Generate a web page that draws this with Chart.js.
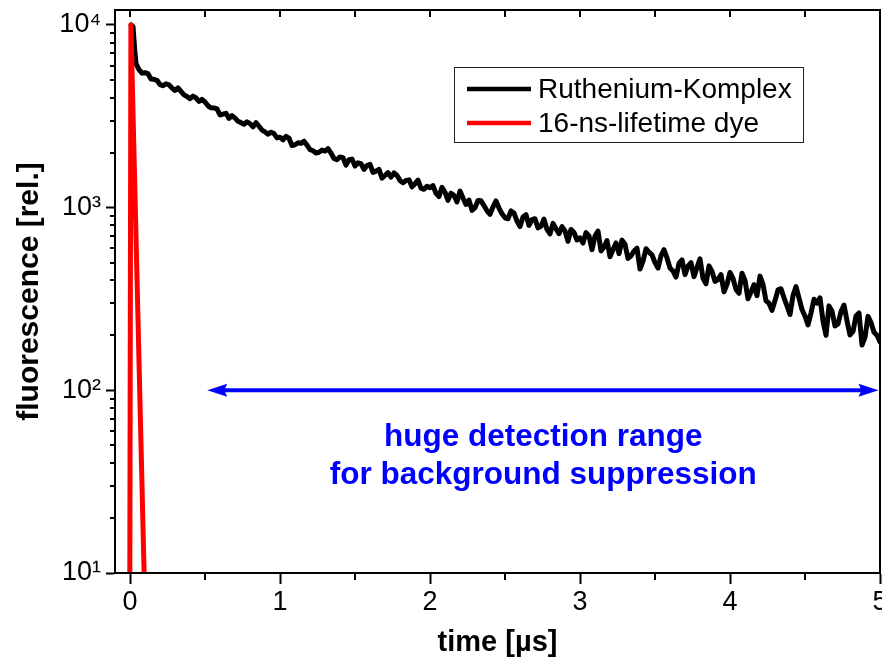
<!DOCTYPE html>
<html><head><meta charset="utf-8">
<script src="https://cdn.jsdelivr.net/npm/chart.js@4.4.1/dist/chart.umd.min.js"></script>
<style>html,body{margin:0;padding:0;background:#fff;}</style>
</head><body>
<canvas id="c" width="882" height="660"></canvas>
<script>
// ---- data ----
const timeUs = [0.008,0.02,0.03,
 0.04,0.06,0.08,0.10,0.12,0.14,0.16,0.18,0.20,0.22,0.24,0.26,0.28,0.30,0.32,0.34,0.36,0.38,0.40,0.42,0.44,0.46,0.48,0.50,
 0.52,0.54,0.56,0.58,0.60,0.62,0.64,0.66,0.68,0.70,0.72,0.74,0.76,0.78,0.80,0.82,0.84,0.86,0.88,0.90,0.92,0.94,0.96,0.98,1.00,
 1.02,1.04,1.06,1.08,1.10,1.12,1.14,1.16,1.18,1.20,1.22,1.24,1.26,1.28,1.30,1.32,1.34,1.36,1.38,1.40,1.42,1.44,1.46,1.48,1.50,
 1.52,1.54,1.56,1.58,1.60,1.62,1.64,1.66,1.68,1.70,1.72,1.74,1.76,1.78,1.80,1.82,1.84,1.86,1.88,1.90,1.92,1.94,1.96,1.98,2.00,
 2.02,2.04,2.06,2.08,2.10,2.12,2.14,2.16,2.18,2.20,2.22,2.24,2.26,2.28,2.30,2.32,2.34,2.36,2.38,2.40,2.42,2.44,2.46,2.48,2.50,
 2.52,2.54,2.56,2.58,2.60,2.62,2.64,2.66,2.68,2.70,2.72,2.74,2.76,2.78,2.80,2.82,2.84,2.86,2.88,2.90,2.92,2.94,2.96,2.98,3.00,
 3.02,3.04,3.06,3.08,3.10,3.12,3.14,3.16,3.18,3.20,3.22,3.24,3.26,3.28,3.30,3.32,3.34,3.36,3.38,3.40,3.42,3.44,3.46,3.48,3.50,
 3.52,3.54,3.56,3.58,3.60,3.62,3.64,3.66,3.68,3.70,3.72,3.74,3.76,3.78,3.80,3.82,3.84,3.86,3.88,3.90,3.92,3.94,3.96,3.98,4.00,
 4.02,4.04,4.06,4.08,4.10,4.12,4.14,4.16,4.18,4.20,4.22,4.24,4.26,4.28,4.30,4.32,4.34,4.36,4.38,4.40,4.42,4.44,4.46,4.48,4.50,
 4.52,4.54,4.56,4.58,4.60,4.62,4.64,4.66,4.68,4.70,4.72,4.74,4.76,4.78,4.80,4.82,4.84,4.86,4.88,4.90,4.92,4.94,4.96,4.98,5.00];
const ruthenium = [10000,9800,7600,
 6150,5700,5450,5480,5410,5060,5040,4980,4720,4650,4770,4700,4515,4380,4530,4330,4145,4060,3950,4080,3985,3820,3915,3790,
 3610,3520,3515,3470,3215,3250,3285,3080,3190,3100,2970,2920,2865,2950,2885,2770,2920,2790,2660,2600,2525,2590,2545,2410,2430,
 2350,2455,2400,2190,2210,2265,2250,2310,2200,2080,2050,1990,2010,2065,2040,2105,1990,1860,1830,1895,1880,1710,1830,1845,1690,
 1760,1740,1620,1700,1725,1560,1585,1620,1450,1500,1555,1470,1550,1500,1410,1370,1410,1420,1300,1350,1415,1280,1260,1310,1285,
 1320,1198,1150,1293,1215,1096,1200,1166,1075,1233,1130,1041,1100,967,1000,1094,1090,1027,960,920,1010,1088,995,925,880,
 869,960,934,845,788,890,915,800,859,870,775,790,866,760,719,820,767,720,787,745,655,760,731,665,683,
 640,730,700,589,700,744,580,609,660,539,590,641,560,664,630,527,545,579,600,461,510,596,570,552,500,
 467,545,589,530,467,450,417,495,518,430,479,500,419,470,525,410,383,480,447,395,404,430,346,380,442,
 410,357,340,438,400,317,345,379,330,422,380,309,300,274,310,355,360,321,290,260,330,370,320,277,255,
 228,265,315,300,321,240,200,290,271,225,231,270,293,240,201,210,255,265,177,195,254,235,208,200,184];
const dyeTime = [-0.002, 0.006, 0.097, 0.106];
const dyeValues = [5, 10000, 8, 5];
const seriesLabels = ['Ruthenium-Komplex', '16-ns-lifetime dye'];
const seriesColors = ['#000000', '#ff0000'];
const xMajorTicks = [0, 1, 2, 3, 4, 5];
const xMinorTicks = [0.5, 1.5, 2.5, 3.5, 4.5];
const yMajorTicks = [10, 100, 1000, 10000];
const yTickLabels = ['10\u00b9', '10\u00b2', '10\u00b3', '10\u2074'];
const yMinorTicks = [20,30,40,50,60,70,80,90,200,300,400,500,600,700,800,900,2000,3000,4000,5000,6000,7000,8000,9000];
const arrowRange = [0.515, 4.99];
const arrowLevel = 100;
const annotationLines = ['huge detection range', 'for background suppression'];
const annotationX = 2.755;
const annotationLevels = [55.5, 34.2];

const FAM = '"Liberation Sans", Arial, Helvetica, sans-serif';

const decor = {
  id: 'decor',
  afterDatasetsDraw(chart) {
    const {ctx, chartArea: a, scales: {x, y}} = chart;
    ctx.save();
    ctx.strokeStyle = '#000';
    ctx.lineWidth = 2;
    ctx.strokeRect(a.left, a.top, a.right - a.left, a.bottom - a.top);
    ctx.beginPath();
    yMinorTicks.forEach(v => { const p = Math.round(y.getPixelForValue(v)); ctx.moveTo(a.left - 5, p); ctx.lineTo(a.left, p); });
    xMinorTicks.forEach(v => { const p = Math.round(x.getPixelForValue(v)); ctx.moveTo(p, a.bottom); ctx.lineTo(p, a.bottom + 7); });
    xMajorTicks.concat(xMinorTicks).forEach(v => { const p = Math.round(x.getPixelForValue(v)); ctx.moveTo(p, a.top); ctx.lineTo(p, a.top + 7); });
    ctx.stroke();

    // legend
    ctx.lineWidth = 1;
    ctx.strokeStyle = '#222';
    ctx.strokeRect(454.5, 67.5, 349, 75);
    const rows = [89, 123];
    seriesLabels.forEach((lab, i) => {
      ctx.strokeStyle = seriesColors[i];
      ctx.lineWidth = 4.5;
      ctx.beginPath(); ctx.moveTo(467, rows[i]); ctx.lineTo(531, rows[i]); ctx.stroke();
      ctx.fillStyle = '#000';
      ctx.font = '28px ' + FAM;
      ctx.textAlign = 'left'; ctx.textBaseline = 'middle';
      ctx.fillText(lab, 538, rows[i] + 1);
    });

    // arrow
    const ay = y.getPixelForValue(arrowLevel);
    const ax1 = x.getPixelForValue(arrowRange[0]);
    const ax2 = x.getPixelForValue(arrowRange[1]);
    ctx.strokeStyle = '#0000ff'; ctx.fillStyle = '#0000ff';
    ctx.lineWidth = 4;
    ctx.beginPath(); ctx.moveTo(ax1 + 10, ay); ctx.lineTo(ax2 - 10, ay); ctx.stroke();
    ctx.beginPath(); ctx.moveTo(ax1, ay); ctx.lineTo(ax1 + 20, ay - 6.5); ctx.lineTo(ax1 + 17, ay); ctx.lineTo(ax1 + 20, ay + 6.5); ctx.closePath(); ctx.fill();
    ctx.beginPath(); ctx.moveTo(ax2, ay); ctx.lineTo(ax2 - 20, ay - 6.5); ctx.lineTo(ax2 - 17, ay); ctx.lineTo(ax2 - 20, ay + 6.5); ctx.closePath(); ctx.fill();

    ctx.font = 'bold 31.5px ' + FAM;
    ctx.textAlign = 'center'; ctx.textBaseline = 'middle';
    const tx = x.getPixelForValue(annotationX);
    annotationLines.forEach((t, i) => ctx.fillText(t, tx, y.getPixelForValue(annotationLevels[i])));
    ctx.restore();
  }
};

new Chart(document.getElementById('c'), {
  type: 'line',
  data: {
    datasets: [
      { label: seriesLabels[0], data: timeUs.map((t, i) => ({x: t, y: ruthenium[i]})),
        borderColor: seriesColors[0], borderWidth: 5, order: 1 },
      { label: seriesLabels[1], data: dyeTime.map((t, i) => ({x: t, y: dyeValues[i]})),
        borderColor: seriesColors[1], borderWidth: 5, order: 0 }
    ]
  },
  options: {
    responsive: false,
    animation: false,
    devicePixelRatio: 1,
    layout: { padding: { top: 10, right: 2, left: 0, bottom: 0 } },
    plugins: { legend: { display: false }, tooltip: { enabled: false } },
    elements: { point: { radius: 0 }, line: { tension: 0, borderJoinStyle: 'round', borderCapStyle: 'round' } },
    scales: {
      x: {
        type: 'linear', min: -0.1, max: 5, position: 'bottom',
        afterBuildTicks: s => { s.ticks = xMajorTicks.map(v => ({value: v})); },
        afterFit: s => { s.height = 87; s.paddingLeft = 0; s.paddingRight = 0; },
        ticks: { font: { family: FAM, size: 27 }, color: '#000', padding: 2, maxRotation: 0, autoSkip: false,
                 callback: v => String(v) },
        grid: { drawOnChartArea: false, tickLength: 11, tickColor: '#000', tickWidth: 2 },
        border: { color: '#000', width: 2 },
        title: { display: true, text: 'time [µs]', color: '#000', font: { family: FAM, size: 29, weight: 'bold' },
                 padding: { top: 0, bottom: 0 } }
      },
      y: {
        type: 'logarithmic', min: 10, max: 12080, position: 'left',
        afterBuildTicks: s => { s.ticks = yMajorTicks.map(v => ({value: v})); },
        afterFit: s => { s.width = 115; s.paddingTop = 0; s.paddingBottom = 0; },
        ticks: { font: { family: FAM, size: 27 }, color: '#000', padding: 5, autoSkip: false,
                 callback: (v) => { const i = yMajorTicks.indexOf(v); return i >= 0 ? yTickLabels[i] : ''; } },
        grid: { drawOnChartArea: false, tickLength: 9, tickColor: '#000', tickWidth: 2 },
        border: { color: '#000', width: 2 },
        title: { display: true, text: 'fluorescence [rel.]', color: '#000', font: { family: FAM, size: 30, weight: 'bold' },
                 padding: { top: 12, bottom: 0 } }
      }
    }
  },
  plugins: [decor]
});
</script>
</body></html>
